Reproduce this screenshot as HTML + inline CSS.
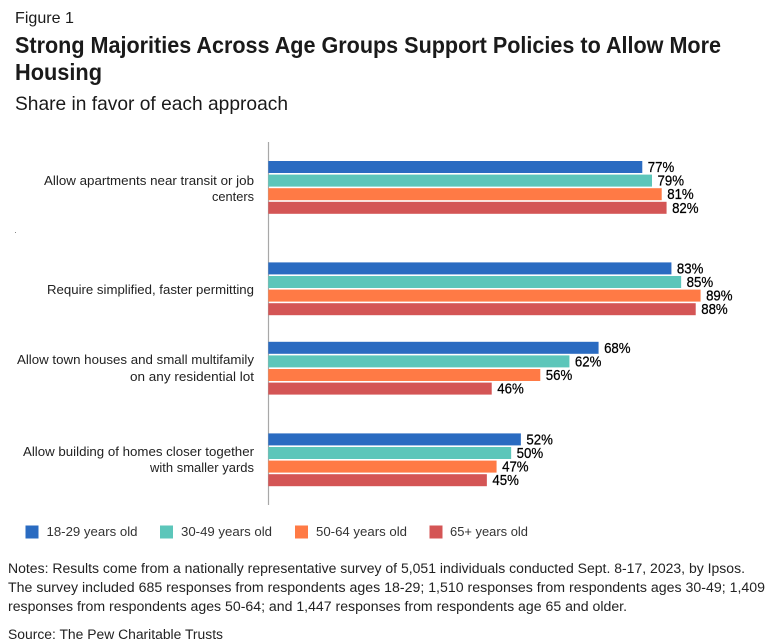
<!DOCTYPE html>
<html lang="en">
<head>
<meta charset="utf-8">
<title>Figure 1</title>
<style>
html,body{margin:0;padding:0;background:#fff;width:774px;height:644px;overflow:hidden}
svg{display:block}
text{font-family:"Liberation Sans",sans-serif;fill:#1a1a1a}
.cat{font-size:12.5px;fill:#222}
.leg{font-size:12.5px;fill:#333}
.note{font-size:13.5px;fill:#222}
.val{font-size:15px;fill:#000;stroke:#000;stroke-width:.25px}
</style>
</head>
<body>
<svg id="chart" xmlns="http://www.w3.org/2000/svg" width="774" height="644" viewBox="0 0 774 644">
  <text x="15" y="23" font-size="16" textLength="59" lengthAdjust="spacingAndGlyphs">Figure 1</text>
  <text x="15" y="53" font-size="23" font-weight="700" fill="#000" textLength="706" lengthAdjust="spacingAndGlyphs">Strong Majorities Across Age Groups Support Policies to Allow More</text>
  <text x="15" y="80" font-size="23" font-weight="700" fill="#000" textLength="87" lengthAdjust="spacingAndGlyphs">Housing</text>
  <text x="15" y="110" font-size="19.5" fill="#333" textLength="273" lengthAdjust="spacingAndGlyphs">Share in favor of each approach</text>
  <rect x="15" y="232" width="1" height="1" fill="#888"/>

  <line x1="268.5" y1="142" x2="268.5" y2="505" stroke="#a8a8a8" stroke-width="1.2"/>

  <g>
    <text class="cat" x="44" y="185" textLength="210" lengthAdjust="spacingAndGlyphs">Allow apartments near transit or job</text>
    <text class="cat" x="212" y="201" textLength="42" lengthAdjust="spacingAndGlyphs">centers</text>
    <text class="cat" x="47" y="294" textLength="207" lengthAdjust="spacingAndGlyphs">Require simplified, faster permitting</text>
    <text class="cat" x="17" y="364" textLength="237" lengthAdjust="spacingAndGlyphs">Allow town houses and small multifamily</text>
    <text class="cat" x="130" y="381" textLength="124" lengthAdjust="spacingAndGlyphs">on any residential lot</text>
    <text class="cat" x="23" y="456" textLength="231" lengthAdjust="spacingAndGlyphs">Allow building of homes closer together</text>
    <text class="cat" x="150" y="472" textLength="104" lengthAdjust="spacingAndGlyphs">with smaller yards</text>
  </g>

  <g id="bars"></g>

  <g>
    <g>
      <rect x="25.5" y="525.5" width="13" height="13" fill="#2a6bc1"/>
      <text class="leg" x="46.5" y="536" textLength="91" lengthAdjust="spacingAndGlyphs">18-29 years old</text>
    </g>
    <g>
      <rect x="160" y="525.5" width="13" height="13" fill="#5cc6ba"/>
      <text class="leg" x="181" y="536" textLength="91" lengthAdjust="spacingAndGlyphs">30-49 years old</text>
    </g>
    <g>
      <rect x="295" y="525.5" width="13" height="13" fill="#ff7a45"/>
      <text class="leg" x="316" y="536" textLength="91" lengthAdjust="spacingAndGlyphs">50-64 years old</text>
    </g>
    <g>
      <rect x="429.5" y="525.5" width="13" height="13" fill="#d45555"/>
      <text class="leg" x="450" y="536" textLength="78" lengthAdjust="spacingAndGlyphs">65+ years old</text>
    </g>
  </g>

  <g>
    <text class="note" x="8" y="573" textLength="737" lengthAdjust="spacingAndGlyphs">Notes: Results come from a nationally representative survey of 5,051 individuals conducted Sept. 8-17, 2023, by Ipsos.</text>
    <text class="note" x="8" y="592" textLength="757" lengthAdjust="spacingAndGlyphs">The survey included 685 responses from respondents ages 18-29; 1,510 responses from respondents ages 30-49; 1,409</text>
    <text class="note" x="8" y="611" textLength="619" lengthAdjust="spacingAndGlyphs">responses from respondents ages 50-64; and 1,447 responses from respondents age 65 and older.</text>
    <text class="note" x="8" y="639" textLength="215" lengthAdjust="spacingAndGlyphs">Source: The Pew Charitable Trusts</text>
  </g>
</svg>
<script>
const categories = ["apartments", "permitting", "town-houses", "closer-homes"];
const seriesNames = ["18-29", "30-49", "50-64", "65-plus"];
const values18to29 = [77, 83, 68, 52];
const values30to49 = [79, 85, 62, 50];
const values50to64 = [81, 89, 56, 47];
const values65plus = [82, 88, 46, 45];

const seriesValues = [values18to29, values30to49, values50to64, values65plus];
const seriesColors = ["#2a6bc1", "#5cc6ba", "#ff7a45", "#d45555"];

function xScale(v) {
  return 268.3 + v * 4.857;
}
function groupTop(i) {
  const tops = [161, 262.4, 341.8, 433.4];
  return tops[i];
}
function barTop(i, s) {
  return groupTop(i) + s * 13.6;
}

const NS = "http://www.w3.org/2000/svg";
const barsLayer = document.getElementById("bars");
seriesValues.forEach(function (vals, s) {
  vals.forEach(function (v, i) {
    const y = barTop(i, s);
    const rect = document.createElementNS(NS, "rect");
    rect.setAttribute("x", xScale(0));
    rect.setAttribute("y", y);
    rect.setAttribute("width", xScale(v) - xScale(0));
    rect.setAttribute("height", 12);
    rect.setAttribute("fill", seriesColors[s]);
    
    
    barsLayer.appendChild(rect);

    const label = document.createElementNS(NS, "text");
    label.setAttribute("class", "val");
    label.setAttribute("x", xScale(v) + 5.5);
    label.setAttribute("y", y + 11);
    label.setAttribute("textLength", 26.5);
    label.setAttribute("lengthAdjust", "spacingAndGlyphs");
    label.textContent = v + "%";
    
    
    barsLayer.appendChild(label);
  });
});
</script>
</body>
</html>
